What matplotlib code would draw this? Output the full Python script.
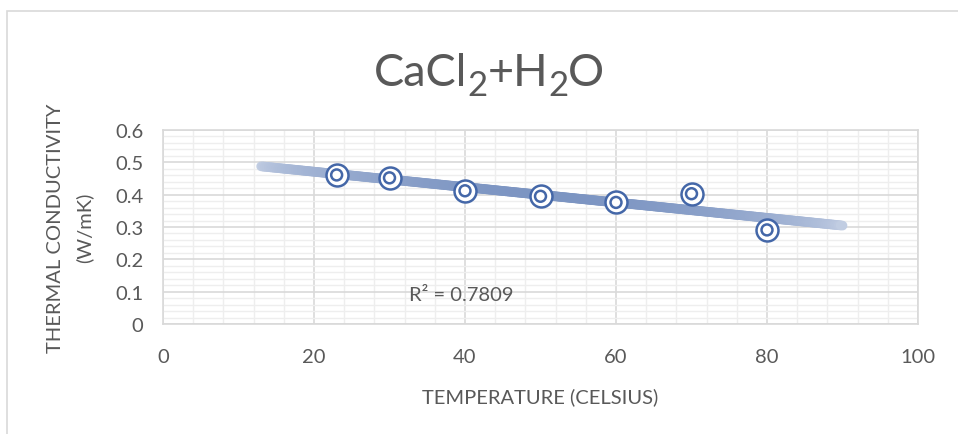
import numpy as np
import matplotlib
matplotlib.use("Agg")
import matplotlib.pyplot as plt
from matplotlib.collections import LineCollection
from matplotlib.patches import Rectangle
from matplotlib.ticker import MultipleLocator

plt.rcParams['font.family'] = ['Lato', 'DejaVu Sans']

# Measured thermal conductivity of CaCl2 + H2O
temperature = [23, 30, 40, 50, 60, 70, 80]
conductivity = [0.461, 0.452, 0.412, 0.395, 0.376, 0.403, 0.291]
r2_label = "R² = 0.7809"
x_ticks = [0, 20, 40, 60, 80, 100]
y_ticks = [0, 0.1, 0.2, 0.3, 0.4, 0.5, 0.6]

TEXT = "#595959"
BLUE = "#4467a8"

fig = plt.figure(figsize=(9.58, 4.35), dpi=100)
fig.patch.set_facecolor("white")
fig.patches.append(Rectangle((7 / 958, -0.05), 1.1, 1 - 12 / 435 + 0.05,
                             transform=fig.transFigure, fill=False,
                             edgecolor="#d9d9d9", linewidth=1.2))

ax = fig.add_axes([163 / 958, 110 / 435, 755 / 958, 194 / 435])
ax.set_xlim(0, 100)
ax.set_ylim(0, 0.6)
ax.set_xticks(x_ticks)
ax.set_yticks(y_ticks)
ax.set_xticklabels([f"{v:g}" for v in x_ticks])
ax.set_yticklabels([f"{v:g}" for v in y_ticks])
ax.xaxis.set_minor_locator(MultipleLocator(4))
ax.yaxis.set_minor_locator(MultipleLocator(0.02))
ax.grid(which="major", color="#d9d9d9", linewidth=1.2)
ax.grid(which="minor", color="#eeeeee", linewidth=1.0)
ax.set_axisbelow(True)
ax.tick_params(which="both", length=0)
ax.tick_params(axis="x", pad=17, labelsize=14.5, labelcolor=TEXT)
ax.tick_params(axis="y", pad=14, labelsize=14.5, labelcolor=TEXT)
for s in ax.spines.values():
    s.set_color("#d9d9d9")
    s.set_linewidth(1.2)

# Linear trendline, extended 10 units backward and forward, faded at the ends
slope, intercept = np.polyfit(temperature, conductivity, 1)
tx = np.linspace(min(temperature) - 10, max(temperature) + 10, 300)
ty = slope * tx + intercept
pts = np.column_stack([tx, ty]).reshape(-1, 1, 2)
segs = np.concatenate([pts[:-1], pts[1:]], axis=1)
t = np.linspace(0, 1, len(segs))
strength = 0.33 + 0.37 * np.sin(np.pi * t) ** 0.6
base = np.array(matplotlib.colors.to_rgb(BLUE))
cols = [tuple(1 - a * (1 - base)) for a in strength]
lc = LineCollection(segs, colors=cols, linewidths=7, capstyle="round", zorder=2)
ax.add_collection(lc)

# Double-ring markers
ax.scatter(temperature, conductivity, s=250, facecolors="white",
           edgecolors=BLUE, linewidths=1.8, zorder=3)
ax.scatter(temperature, conductivity, s=62, facecolors="none",
           edgecolors=BLUE, linewidths=1.8, zorder=4)

ax.text(32.6, 0.09, r2_label, fontsize=14.5, color=TEXT, va="center", ha="left")

ax.set_xlabel("TEMPERATURE (CELSIUS)", fontsize=14.5, color=TEXT, labelpad=16)
ax.set_ylabel("THERMAL CONDUCTIVITY\n(W/mK)", fontsize=14.5, color=TEXT,
              labelpad=16, linespacing=1.75)

# Title with subscripted digits, laid out piece by piece
pieces = [("CaCl", 0), ("2", 1), ("+H", 0), ("2", 1), ("O", 0)]
big, small = 32.5, 25
renderer = fig.canvas.get_renderer()
widths = []
for txt, sub in pieces:
    tt = fig.text(0, 0, txt, fontsize=small if sub else big)
    widths.append(tt.get_window_extent(renderer).width)
    tt.remove()
total = sum(widths)
x0 = 489 - total / 2
baseline = 435 - 86
for (txt, sub), w in zip(pieces, widths):
    y = baseline - (10 if sub else 0)
    fig.text(x0 / 958, y / 435, txt, fontsize=small if sub else big,
             color=TEXT, ha="left", va="baseline")
    x0 += w

fig.savefig("out.png", dpi=100)
